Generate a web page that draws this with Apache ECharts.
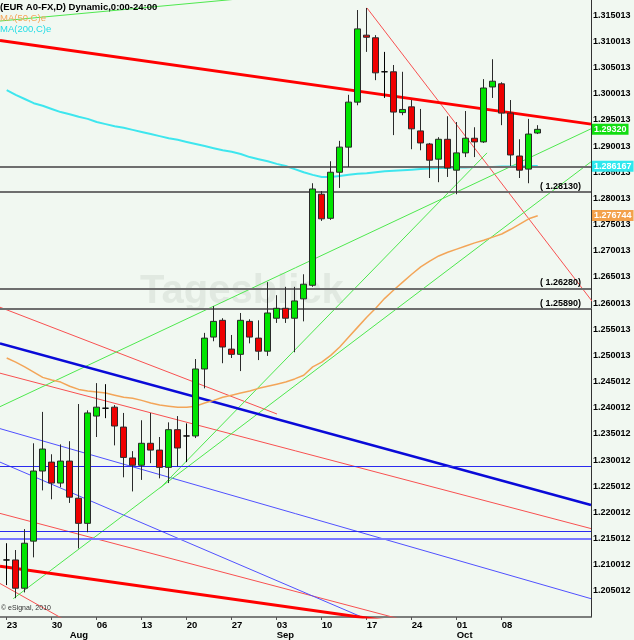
<!DOCTYPE html>
<html><head><meta charset="utf-8">
<script src="https://cdn.jsdelivr.net/npm/echarts@6/dist/echarts.min.js"></script>
<style>html,body{margin:0;padding:0;background:#f1f8f1;}#c{width:634px;height:640px;}</style>
</head><body><div id="c"></div>
<script>
// ---- data ----
const dates = ['2012-07-23','2012-07-24','2012-07-25','2012-07-26','2012-07-27',
 '2012-07-30','2012-07-31','2012-08-01','2012-08-02','2012-08-03',
 '2012-08-06','2012-08-07','2012-08-08','2012-08-09','2012-08-10',
 '2012-08-13','2012-08-14','2012-08-15','2012-08-16','2012-08-17',
 '2012-08-20','2012-08-21','2012-08-22','2012-08-23','2012-08-24',
 '2012-08-27','2012-08-28','2012-08-29','2012-08-30','2012-08-31',
 '2012-09-03','2012-09-04','2012-09-05','2012-09-06','2012-09-07',
 '2012-09-10','2012-09-11','2012-09-12','2012-09-13','2012-09-14',
 '2012-09-17','2012-09-18','2012-09-19','2012-09-20','2012-09-21',
 '2012-09-24','2012-09-25','2012-09-26','2012-09-27','2012-09-28',
 '2012-10-01','2012-10-02','2012-10-03','2012-10-04','2012-10-05',
 '2012-10-08','2012-10-09','2012-10-10','2012-10-11','2012-10-12'];
const openP  = [1.2109,1.2109,1.2055,1.2145,1.2279,1.2296,1.2256,1.2298,1.2227,1.2179,
 1.2384,1.2399,1.2401,1.2363,1.2304,1.2290,1.2332,1.2319,1.2286,1.2358,
 1.2346,1.2346,1.2474,1.2535,1.2567,1.2512,1.2502,1.2565,1.2533,1.2508,
 1.2571,1.2590,1.2571,1.2608,1.2634,1.2808,1.2762,1.2850,1.2898,1.2984,
 1.3112,1.3107,1.3042,1.3042,1.2964,1.2975,1.2929,1.2904,1.2875,1.2913,
 1.2854,1.2887,1.2915,1.2908,1.3013,1.3019,1.2963,1.2881,1.2856,1.2925];
const closeP = [1.2109,1.2055,1.2141,1.2279,1.2321,1.2256,1.2298,1.2229,1.2179,1.2390,
 1.2401,1.2399,1.2365,1.2305,1.2290,1.2332,1.2319,1.2286,1.2358,1.2323,
 1.2346,1.2474,1.2533,1.2565,1.2516,1.2502,1.2567,1.2535,1.2508,1.2581,
 1.2590,1.2571,1.2604,1.2636,1.2818,1.2761,1.2850,1.2898,1.2984,1.3124,
 1.3108,1.3040,1.3042,1.2965,1.2970,1.2933,1.2906,1.2873,1.2913,1.2858,
 1.2887,1.2915,1.2908,1.3011,1.3024,1.2963,1.2883,1.2854,1.2923,1.2932];
const lowP   = [1.2061,1.2036,1.2047,1.2114,1.2242,1.2225,1.2248,1.2218,1.2131,1.2162,
 1.2344,1.2380,1.2328,1.2267,1.2240,1.2262,1.2294,1.2265,1.2256,1.2288,
 1.2296,1.2342,1.2437,1.2527,1.2485,1.2495,1.2470,1.2523,1.2491,1.2499,
 1.2562,1.2562,1.2506,1.2565,1.2631,1.2757,1.2759,1.2820,1.2860,1.2978,
 1.3080,1.3026,1.2992,1.2921,1.2959,1.2894,1.2892,1.2839,1.2831,1.2841,
 1.2808,1.2879,1.2879,1.2906,1.2992,1.2940,1.2862,1.2839,1.2829,1.2923];
const highP  = [1.2141,1.2128,1.2168,1.2332,1.2392,1.2311,1.2330,1.2336,1.2407,1.2395,
 1.2447,1.2445,1.2405,1.2390,1.2317,1.2376,1.2390,1.2344,1.2372,1.2384,
 1.2370,1.2493,1.2543,1.2594,1.2571,1.2539,1.2581,1.2569,1.2567,1.2640,
 1.2615,1.2631,1.2631,1.2655,1.2829,1.2814,1.2871,1.2910,1.2998,1.3160,
 1.3164,1.3112,1.3080,1.3055,1.3042,1.2988,1.2971,1.2906,1.2917,1.2957,
 1.2946,1.2967,1.2936,1.3028,1.3066,1.3022,1.2988,1.2913,1.2952,1.2940];
const ma50  = [1.2495,1.2487,1.2478,1.2468,1.2458,1.2453,1.2449,1.2441,1.2435,1.2432,
 1.2430,1.2428,1.2424,1.2420,1.2418,1.2414,1.2409,1.2405,1.2403,1.2401,
 1.2401,1.2403,1.2409,1.2414,1.2420,1.2424,1.2428,1.2432,1.2437,1.2441,
 1.2445,1.2449,1.2455,1.2462,1.2478,1.2487,1.2500,1.2516,1.2535,1.2554,
 1.2573,1.2590,1.2609,1.2625,1.2640,1.2655,1.2669,1.2680,1.2690,1.2697,
 1.2703,1.2709,1.2715,1.2720,1.2726,1.2732,1.2741,1.2751,1.2761,1.2767];
const ma200 = [1.3007,1.2998,1.2990,1.2982,1.2977,1.2971,1.2965,1.2961,1.2956,1.2952,
 1.2946,1.2942,1.2938,1.2935,1.2931,1.2927,1.2923,1.2919,1.2915,1.2912,
 1.2908,1.2904,1.2900,1.2896,1.2892,1.2889,1.2885,1.2879,1.2875,1.2871,
 1.2866,1.2862,1.2856,1.2850,1.2845,1.2841,1.2841,1.2843,1.2845,1.2847,
 1.2848,1.2850,1.2852,1.2853,1.2854,1.2855,1.2856,1.2857,1.2858,1.2858,
 1.2859,1.2859,1.2860,1.2860,1.2860,1.2861,1.2861,1.2861,1.2862,1.2862];
const yTickLabels = ['1.205012','1.210012','1.215012','1.220012','1.225012','1.230012','1.235012',
 '1.240012','1.245012','1.250013','1.255013','1.260013','1.265013','1.270013','1.275013',
 '1.280013','1.285013','1.290013','1.295013','1.300013','1.305013','1.310013','1.315013'];
const dayTickIdx = [0,5,10,15,20,25,30,35,40,45,50,55];
const monthTickIdx = [7,30,50];
const monthNames = ['Jan','Feb','Mar','Apr','May','Jun','Jul','Aug','Sep','Oct','Nov','Dec'];
// support / resistance levels
const grayLevels = [1.2861, 1.2813, 1.2628, 1.2589];
const grayLabels = ['', '( 1.28130)', '( 1.26280)', '( 1.25890)'];
const blueLevels = [1.2289, 1.2164, 1.2149];
const lastPrice = 1.29320, ma50Last = 1.276744, ma200Last = 1.286167;
// trend lines: [index, price] end points
const redThick = [[[-0.744,1.3102],[64.92,1.2942]], [[-0.744,1.2097],[43.70,1.1989]]];
const redThin = [[[40.03,1.3164],[66.0,1.2582]], [[-0.744,1.2592],[30.03,1.2388]],
 [[-0.744,1.2466],[64.92,1.2169]], [[-0.744,1.2198],[45.92,1.1986]], [[-0.744,1.2064],[6.29,1.1996]]];
const blueThick = [[[-0.744,1.2523],[64.92,1.2214]]];
const blueThin = [[[-0.744,1.2360],[64.92,1.2035]], [[-0.744,1.2296],[41.48,1.1985]]];
const greenThin = [[[-0.744,1.3139],[28.14,1.3185]], [[-0.744,1.2402],[64.92,1.2933]],
 [[0.733,1.2035],[64.92,1.2870]], [[17.03,1.2246],[53.37,1.2887]]];

// ---- chart ----
const chart = echarts.init(document.getElementById('c'));
const FONT = 'Liberation Sans, Arial, sans-serif';
const XMIN = -0.744, XMAX = 64.92;
function seg(pts, color, width, z) {
  return {type:'line', data: pts, symbol:'none', silent:true, clip:true, z: z||2,
    lineStyle:{color, width}, animation:false};
}
const series = [];
redThick.forEach(p => series.push(seg(p, '#ff0000', 3, 3)));
redThin.forEach(p => series.push(seg(p, '#f85050', 1)));
blueThick.forEach(p => series.push(seg(p, '#0a0ad8', 2.5, 3)));
blueThin.forEach(p => series.push(seg(p, '#5050ff', 1)));
greenThin.forEach(p => series.push(seg(p, '#4ee84e', 1)));
series.push({type:'line', data: ma50.map((v,i)=>[i,v]), symbol:'none', silent:true,
  lineStyle:{color:'#f3a558', width:1.5}, z:3, animation:false});
series.push({type:'line', data: ma200.map((v,i)=>[i,v]), symbol:'none', silent:true,
  lineStyle:{color:'#3ee6ee', width:2}, z:3, animation:false});

const ml = [];
grayLevels.forEach((v,i) => ml.push({yAxis:v, lineStyle:{color:'#6e6e6e', width:2, type:'solid'},
  label:{show: !!grayLabels[i], formatter: grayLabels[i], position:'insideEndTop', distance:1,
    padding:[0,9,0,0], color:'#000', fontWeight:'bold', fontSize:9, fontFamily:FONT}}));
blueLevels.forEach((v,i) => ml.push({yAxis:v, lineStyle:{color: i===2 ? '#7878ff' : '#2a2aee', width: i===2 ? 2 : 1.2, type:'solid'}, label:{show:false}}));
function boxMark(v, txt, bg) {
  return {yAxis:v, lineStyle:{color:'rgba(0,0,0,0)', width:1, type:'solid'}, label:{show:true, position:'end', distance:1,
    formatter: txt, backgroundColor:bg, color:'#fff', fontWeight:'bold', fontSize:9,
    fontFamily:FONT, padding:[1,2,1,2], opacity:1}};
}
ml.push(boxMark(ma50Last, String(ma50Last), '#f3a14b'));
ml.push(boxMark(ma200Last, String(ma200Last), '#2ee8ee'));
ml.push(boxMark(lastPrice, lastPrice.toFixed(5), '#11dd11'));

series.push({type:'candlestick', data: dates.map((d,i)=>[i, openP[i], closeP[i], lowP[i], highP[i]]),
  encode:{x:0, y:[1,2,3,4]}, barWidth:6, z:5, silent:true, animation:false,
  itemStyle:{color:'#00e400', color0:'#ee0000', borderColor:'#2a2a2a', borderColor0:'#2a2a2a',
    borderColorDoji:'#000', borderWidth:1},
  markLine:{symbol:['none','none'], silent:true, animation:false, precision:6, data: ml}});

chart.setOption({
  backgroundColor:'#f1f8f1',
  animation:false,
  grid:{left:0, right:43, top:0, bottom:23, containLabel:false},
  xAxis:[{type:'value', min:XMIN, max:XMAX, position:'bottom',
      axisLine:{show:true, onZero:false, lineStyle:{color:'#555', width:1.5}},
      axisTick:{show:true, customValues: dayTickIdx, length:3, lineStyle:{color:'#555'}},
      splitLine:{show:false},
      axisLabel:{customValues: dayTickIdx, align:'left', margin:3, color:'#000', fontWeight:'bold',
        fontSize:9.5, fontFamily:FONT, formatter: v => dates[Math.round(v)].slice(8,10)}},
    {type:'value', min:XMIN, max:XMAX, position:'bottom', offset:11,
      axisLine:{show:false, onZero:false}, axisTick:{show:false}, splitLine:{show:false},
      axisLabel:{customValues: monthTickIdx, align:'left', margin:2, color:'#000', fontWeight:'bold',
        fontSize:9.5, fontFamily:FONT, formatter: v => monthNames[+dates[Math.round(v)].slice(5,7)-1]}}],
  yAxis:{type:'value', position:'right', min:1.2, max:1.31792, interval:0.005, scale:true,
    axisLine:{show:true, onZero:false, lineStyle:{color:'#333', width:1}}, axisTick:{show:false},
    splitLine:{show:false}, showMinLabel:false, showMaxLabel:false,
    axisLabel:{margin:2, color:'#000', fontWeight:'bold', fontSize:9, fontFamily:FONT,
      formatter: v => yTickLabels[Math.round((v-1.2)/0.005)-1] || ''}},
  graphic:[
    {type:'text', left:140, top:272, z:-1, silent:true, style:{text:'Tagesblick', fill:'rgba(190,200,190,0.3)', font:'bold 40px '+FONT}},
    {type:'text', left:0, top:2, z:10, style:{text:'(EUR A0-FX,D) Dynamic,0:00-24:00', fill:'#000', font:'bold 9.5px '+FONT}},
    {type:'text', left:0, top:13, z:10, style:{text:'MA(50,C)e', fill:'#f3a558', font:'9.5px '+FONT}},
    {type:'text', left:0, top:24, z:10, style:{text:'MA(200,C)e', fill:'#22dde6', font:'9.5px '+FONT}},
    {type:'text', left:1, top:605, z:10, style:{text:'© eSignal, 2010', fill:'#333', font:'7px '+FONT}}
  ],
  series
});
</script></body></html>
